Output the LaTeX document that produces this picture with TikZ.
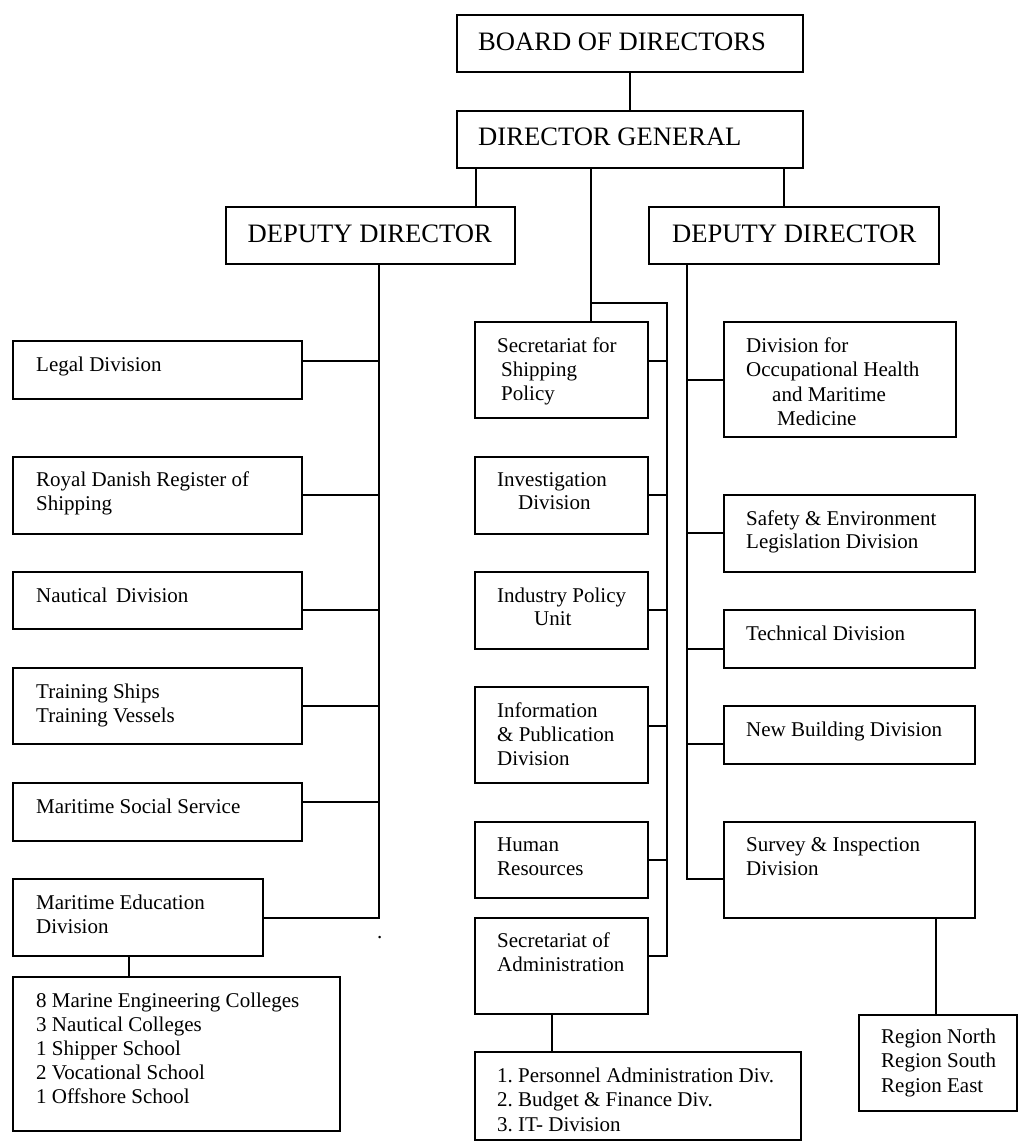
\documentclass[tikz,border=0pt]{standalone}
\usepackage{fontspec}
\setmainfont{Liberation Serif}
\usetikzlibrary{fit}
\frenchspacing
\begin{document}
\begin{tikzpicture}[x=1pt,y=-1pt,
  box/.style={draw, line width=1.6pt, inner sep=0pt, outer sep=0pt},
  ln/.style={line width=1.6pt},
  hd/.style={font=\fontsize{26.6}{30}\selectfont, inner sep=0pt, anchor=base west},
  tx/.style={font=\fontsize{21}{24}\selectfont, inner sep=0pt, anchor=base west}]
\useasboundingbox (0,0) rectangle (1018,1142);
\fill[white] (0,0) rectangle (1018,1142);

% boxes
\node[box, fit={(457,15) (803,72)}] (board) {};
\node[box, fit={(457,111) (803,168)}] (dg) {};
\node[box, fit={(226,207) (515,264)}] (ddl) {};
\node[box, fit={(649,207) (939,264)}] (ddr) {};

\node[box, fit={(13,341) (302,399)}] (legal) {};
\node[box, fit={(13,457) (302,534)}] (royal) {};
\node[box, fit={(13,572) (302,629)}] (naut) {};
\node[box, fit={(13,668) (302,744)}] (train) {};
\node[box, fit={(13,783) (302,841)}] (social) {};
\node[box, fit={(13,879) (263,956)}] (edu) {};
\node[box, fit={(13,977) (340,1131)}] (coll) {};

\node[box, fit={(475,322) (648,418)}] (secship) {};
\node[box, fit={(475,457) (648,534)}] (invest) {};
\node[box, fit={(475,572) (648,649)}] (industry) {};
\node[box, fit={(475,687) (648,783)}] (info) {};
\node[box, fit={(475,822) (648,898)}] (human) {};
\node[box, fit={(475,918) (648,1014)}] (secadm) {};
\node[box, fit={(475,1052) (801,1140)}] (pers) {};

\node[box, fit={(724,322) (956,437)}] (occ) {};
\node[box, fit={(724,495) (975,572)}] (safety) {};
\node[box, fit={(724,610) (975,668)}] (tech) {};
\node[box, fit={(724,706) (975,764)}] (newb) {};
\node[box, fit={(724,822) (975,918)}] (survey) {};
\node[box, fit={(859,1015) (1017,1111)}] (region) {};

% helper coordinates
\coordinate (xl) at (476,0);
\coordinate (xm) at (591,0);
\coordinate (xr) at (784,0);
\coordinate (lb) at (379,0);
\coordinate (mb) at (667,0);
\coordinate (rb) at (687,0);
\coordinate (mj) at (591,303);
\coordinate (xe) at (129,0);
\coordinate (xs) at (552,0);
\coordinate (xv) at (936,0);

% connectors
\draw[ln] (board.south) -- (dg.north);
\draw[ln] (dg.south -| xl) -- (ddl.north -| xl);
\draw[ln] (dg.south -| xr) -- (ddr.north -| xr);
\draw[ln] (dg.south -| xm) -- (secship.north -| xm);

% left bus
\draw[ln] (ddl.south -| lb) -- ([yshift=-0.5pt]edu.east -| lb) -- ([yshift=-0.5pt]edu.east);
\draw[ln] ([yshift=9pt]legal.east) -- ([yshift=9pt]legal.east -| lb);
\draw[ln] ([yshift=0.5pt]royal.east) -- ([yshift=0.5pt]royal.east -| lb);
\draw[ln] ([yshift=-9.5pt]naut.east) -- ([yshift=-9.5pt]naut.east -| lb);
\draw[ln] (train.east) -- (train.east -| lb);
\draw[ln] ([yshift=10pt]social.east) -- ([yshift=10pt]social.east -| lb);
\draw[ln] (edu.south -| xe) -- (coll.north -| xe);

% middle bus
\draw[ln] (mj) -- (mj -| mb) -- ([yshift=10pt]secadm.east -| mb) -- ([yshift=10pt]secadm.east);
\draw[ln] ([yshift=9pt]secship.east) -- ([yshift=9pt]secship.east -| mb);
\draw[ln] ([yshift=0.5pt]invest.east) -- ([yshift=0.5pt]invest.east -| mb);
\draw[ln] ([yshift=0.5pt]industry.east) -- ([yshift=0.5pt]industry.east -| mb);
\draw[ln] ([yshift=9pt]info.east) -- ([yshift=9pt]info.east -| mb);
\draw[ln] (human.east) -- (human.east -| mb);
\draw[ln] (secadm.south -| xs) -- (pers.north -| xs);

% right bus
\draw[ln] (ddr.south -| rb) -- ([yshift=-9pt]survey.west -| rb) -- ([yshift=-9pt]survey.west);
\draw[ln] ([yshift=-0.5pt]occ.west -| rb) -- ([yshift=-0.5pt]occ.west);
\draw[ln] ([yshift=0.5pt]safety.west -| rb) -- ([yshift=0.5pt]safety.west);
\draw[ln] ([yshift=-10pt]tech.west -| rb) -- ([yshift=-10pt]tech.west);
\draw[ln] ([yshift=-9pt]newb.west -| rb) -- ([yshift=-9pt]newb.west);
\draw[ln] (survey.south -| xv) -- (region.north -| xv);

% texts
\node[hd] (tboard) at (478,51) {BOARD OF DIRECTORS};
\node[hd] (tdg) at (478,146) {DIRECTOR GENERAL};
\node[hd] (tddl) at (247.5,242) {DEPUTY DIRECTOR};
\node[hd] (tddr) at (672,242) {DEPUTY DIRECTOR};

\node[tx] (tlegal) at (36,371) {Legal Division};
\node[tx] (troyal1) at (36,486) {Royal Danish Register of};
\node[tx] (troyal2) at (36,510) {Shipping};
\node[tx] (tnaut) at (36,602) {Nautical\, Division};
\node[tx] (ttrain1) at (36,698) {Training Ships};
\node[tx] (ttrain2) at (36,722) {Training Vessels};
\node[tx] (tsocial) at (36,813) {Maritime Social Service};
\node[tx] (tedu1) at (36,909) {Maritime Education};
\node[tx] (tedu2) at (36,933) {Division};
\node[tx] (tcoll1) at (36,1007) {8 Marine Engineering Colleges};
\node[tx] (tcoll2) at (36,1031) {3 Nautical Colleges};
\node[tx] (tcoll3) at (36,1055.5) {1 Shipper School};
\node[tx] (tcoll4) at (36,1079.5) {2 Vocational School};
\node[tx] (tcoll5) at (36,1103.5) {1 Offshore School};
\node[tx] (tdot) at (377,938) {.};

\node[tx] (tss1) at (497,352) {Secretariat for};
\node[tx] (tss2) at (501,376) {Shipping};
\node[tx] (tss3) at (501,400) {Policy};
\node[tx] (tinv1) at (497,486) {Investigation};
\node[tx] (tinv2) at (518,509) {Division};
\node[tx] (tind1) at (497,602) {Industry Policy};
\node[tx] (tind2) at (534,625) {Unit};
\node[tx] (tinfo1) at (497,717) {Information};
\node[tx] (tinfo2) at (497,741) {\& Publication};
\node[tx] (tinfo3) at (497,765) {Division};
\node[tx] (thum1) at (497,851) {Human};
\node[tx] (thum2) at (497,875) {Resources};
\node[tx] (tsa1) at (497,947) {Secretariat of};
\node[tx] (tsa2) at (497,971) {Administration};
\node[tx] (tpers1) at (497,1082) {1. Personnel Administration Div.};
\node[tx] (tpers2) at (497,1106) {2. Budget \& Finance Div.};
\node[tx] (tpers3) at (497,1131) {3. IT- Division};

\node[tx] (tocc1) at (746,352) {Division for};
\node[tx] (tocc2) at (746,376) {Occupational Health};
\node[tx] (tocc3) at (772,401) {and Maritime};
\node[tx] (tocc4) at (777,425) {Medicine};
\node[tx] (tsaf1) at (746,525) {Safety \& Environment};
\node[tx] (tsaf2) at (746,548) {Legislation Division};
\node[tx] (ttech) at (746,640) {Technical Division};
\node[tx] (tnewb) at (746,736) {New Building Division};
\node[tx] (tsur1) at (746,851) {Survey \& Inspection};
\node[tx] (tsur2) at (746,875) {Division};
\node[tx] (treg1) at (881,1043) {Region North};
\node[tx] (treg2) at (881,1067) {Region South};
\node[tx] (treg3) at (881,1092) {Region East};
\end{tikzpicture}
\end{document}
